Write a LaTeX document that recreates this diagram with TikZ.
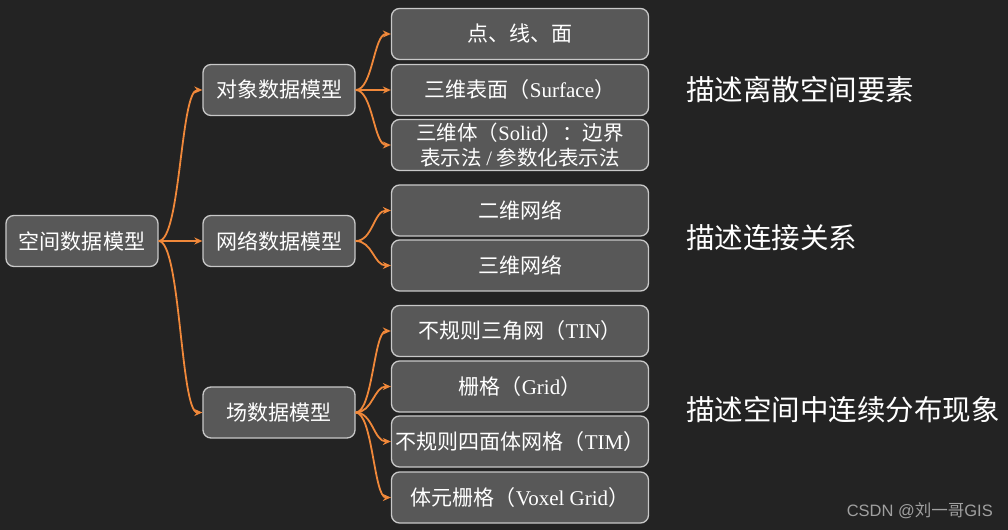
\documentclass[tikz,border=0pt]{standalone}
\usepackage{fontspec}
\setmainfont{Liberation Serif}
\newfontfamily\cjk{Noto Sans CJK SC}
\newfontfamily\arialf{Liberation Sans}
\usetikzlibrary{arrows.meta}
\definecolor{bg}{HTML}{232323}
\definecolor{boxfill}{HTML}{585858}
\definecolor{boxline}{HTML}{C8C8C8}
\definecolor{arr}{HTML}{F0883A}
\definecolor{wm}{HTML}{A0A0A0}
\newcommand\lat[1]{{\rmfamily #1}}
\begin{document}
\begin{tikzpicture}[x=1bp,y=-1bp,
 box/.style={draw=boxline,fill=boxfill,line width=1.3bp,rounded corners=8bp,text=white,
   font=\cjk\fontsize{21bp}{25bp}\selectfont,align=center,inner sep=0pt},
 lvA/.style={box,minimum width=152bp,minimum height=51bp},
 lvC/.style={box,minimum width=257bp,minimum height=51bp},
 link/.style={draw=arr,line width=1.8bp,-{Stealth[length=8bp,width=7bp]}},
 note/.style={text=white,font=\cjk\fontsize{28.5bp}{33bp}\selectfont,anchor=west,inner sep=0pt}]
\fill[bg] (0,0) rectangle (1008,530);
\useasboundingbox (0,0) rectangle (1008,530);

\node[lvA] (root) at (82,241) {空间数据模型};
\node[lvA] (a) at (279,90) {对象数据模型};
\node[lvA] (b) at (279,241) {网络数据模型};
\node[lvA] (c) at (279,412.5) {场数据模型};

\node[lvC] (a1) at (520,34) {点、线、面};
\node[lvC] (a2) at (520,90) {三维表面（\lat{Surface}）};
\node[lvC,font=\cjk\fontsize{20.5bp}{25bp}\selectfont] (a3) at (520,145) {三维体（\lat{Solid}）：边界\\表示法 \lat{/} 参数化表示法};
\node[lvC] (b1) at (520,210.5) {二维网络};
\node[lvC] (b2) at (520,265.5) {三维网络};
\node[lvC] (c1) at (520,331) {不规则三角网（\lat{TIN}）};
\node[lvC] (c2) at (520,386.5) {栅格（\lat{Grid}）};
\node[lvC] (c3) at (520,441.5) {不规则四面体网格（\lat{TIM}）};
\node[lvC] (c4) at (520,497.5) {体元栅格（\lat{Voxel Grid}）};

\node[note] (n1) at (686,90) {描述离散空间要素};
\node[note] (n2) at (686,238) {描述连接关系};
\node[note] (n3) at (686,410) {描述空间中连续分布现象};

\node[anchor=east,inner sep=0pt,text=wm,font=\arialf\fontsize{16.5bp}{18bp}\selectfont] (wmk) at (993,511) {CSDN @{\cjk 刘一哥}GIS};

\foreach \t in {a,c}
  \draw[link] (root.east) .. controls +(22,0) and +(-22,0) .. (\t.west);
\draw[link] (root.east) -- (b.west);
\foreach \t in {a1,a3}
  \draw[link] (a.east) .. controls +(17,0) and +(-17,0) .. (\t.west);
\draw[link] (a.east) -- (a2.west);
\foreach \t in {b1,b2}
  \draw[link] (b.east) .. controls +(17,0) and +(-17,0) .. (\t.west);
\foreach \t in {c1,c2,c3,c4}
  \draw[link] (c.east) .. controls +(17,0) and +(-17,0) .. (\t.west);
\end{tikzpicture}
\end{document}
